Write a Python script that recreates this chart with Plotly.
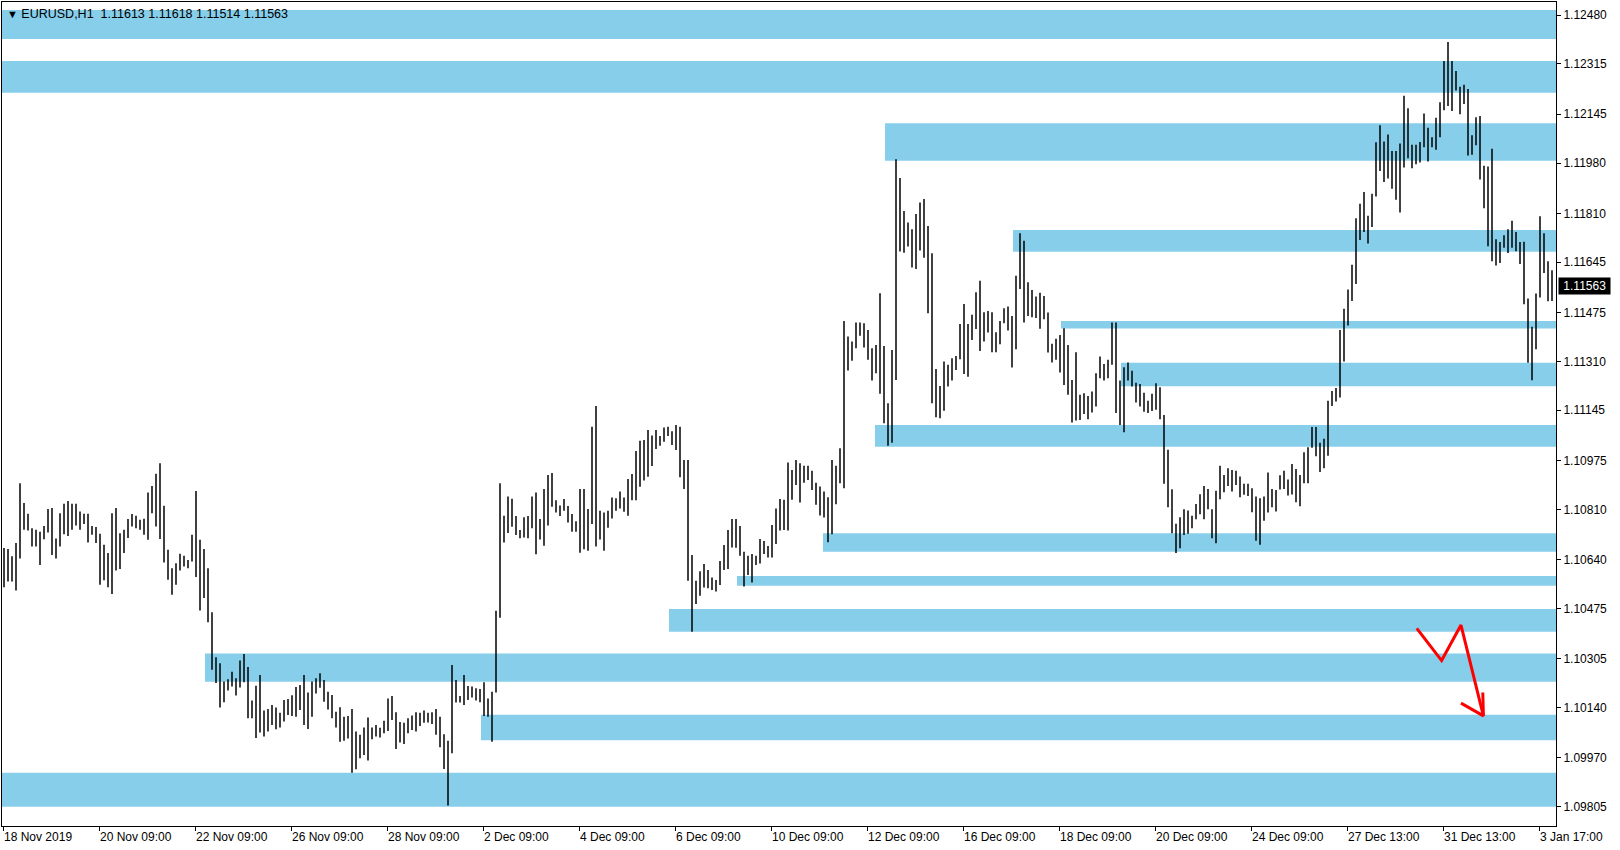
import plotly.graph_objects as go

# ---------------- data ----------------
symbol_header = "EURUSD,H1  1.11613 1.11618 1.11514 1.11563"
last_close = 1.11563
bars_per_entry = 2  # each entry = high/low of two consecutive H1 bars

highs = [
    1.10679, 1.10676, 1.10651, 1.10696, 1.10898, 1.10831, 1.10795, 1.10746, 1.10741, 1.10734,
    1.10754, 1.10811, 1.10814, 1.10711, 1.10797, 1.10829, 1.10838, 1.10829, 1.10829, 1.10803,
    1.10795, 1.10795, 1.10754, 1.10750, 1.10727, 1.10690, 1.10662, 1.10797, 1.10814, 1.10729,
    1.10741, 1.10777, 1.10794, 1.10788, 1.10775, 1.10778, 1.10867, 1.10889, 1.10930, 1.10966,
    1.10822, 1.10673, 1.10611, 1.10628, 1.10660, 1.10653, 1.10639, 1.10724, 1.10872, 1.10707,
    1.10676, 1.10611, 1.10462, 1.10310, 1.10290, 1.10228, 1.10236, 1.10261, 1.10239, 1.10299,
    1.10321, 1.10277, 1.10164, 1.10214, 1.10250, 1.10130, 1.10135, 1.10149, 1.10140, 1.10123,
    1.10166, 1.10169, 1.10182, 1.10210, 1.10216, 1.10250, 1.10191, 1.10228, 1.10239, 1.10256,
    1.10233, 1.10194, 1.10183, 1.10126, 1.10141, 1.10109, 1.10112, 1.10135, 1.10059, 1.10048,
    1.10073, 1.10107, 1.10073, 1.10081, 1.10072, 1.10096, 1.10171, 1.10179, 1.10124, 1.10091,
    1.10089, 1.10104, 1.10113, 1.10124, 1.10123, 1.10130, 1.10123, 1.10124, 1.10135, 1.10109,
    1.10050, 1.10028, 1.10284, 1.10233, 1.10179, 1.10250, 1.10213, 1.10211, 1.10205, 1.10203,
    1.10226, 1.10171, 1.10194, 1.10467, 1.10898, 1.10788, 1.10853, 1.10846, 1.10787, 1.10740,
    1.10783, 1.10787, 1.10853, 1.10867, 1.10777, 1.10879, 1.10926, 1.10933, 1.10841, 1.10823,
    1.10845, 1.10821, 1.10794, 1.10770, 1.10879, 1.10879, 1.10811, 1.11089, 1.11159, 1.10805,
    1.10799, 1.10805, 1.10850, 1.10847, 1.10870, 1.10850, 1.10912, 1.10929, 1.11007, 1.11042,
    1.11044, 1.11078, 1.11059, 1.11078, 1.11058, 1.11086, 1.11089, 1.11074, 1.11095, 1.11089,
    1.10977, 1.10977, 1.10656, 1.10569, 1.10601, 1.10625, 1.10605, 1.10580, 1.10571, 1.10635,
    1.10689, 1.10740, 1.10777, 1.10777, 1.10754, 1.10667, 1.10653, 1.10659, 1.10653, 1.10710,
    1.10703, 1.10686, 1.10757, 1.10813, 1.10845, 1.10842, 1.10968, 1.10943, 1.10977, 1.10966,
    1.10957, 1.10957, 1.10940, 1.10900, 1.10887, 1.10870, 1.10851, 1.10977, 1.10957, 1.11016,
    1.11446, 1.11394, 1.11377, 1.11441, 1.11441, 1.11439, 1.11416, 1.11354, 1.11365, 1.11540,
    1.11362, 1.11168, 1.11348, 1.11993, 1.11929, 1.11818, 1.11779, 1.11756, 1.11808, 1.11847,
    1.11858, 1.11767, 1.11675, 1.11284, 1.11227, 1.11309, 1.11298, 1.11320, 1.11328, 1.11436,
    1.11504, 1.11436, 1.11467, 1.11543, 1.11582, 1.11476, 1.11480, 1.11476, 1.11408, 1.11446,
    1.11489, 1.11495, 1.11463, 1.11599, 1.11743, 1.11717, 1.11577, 1.11551, 1.11529, 1.11542,
    1.11531, 1.11475, 1.11369, 1.11386, 1.11399, 1.11422, 1.11365, 1.11247, 1.11341, 1.11197,
    1.11202, 1.11193, 1.11208, 1.11270, 1.11326, 1.11301, 1.11315, 1.11441, 1.11441, 1.11245,
    1.11290, 1.11306, 1.11278, 1.11238, 1.11233, 1.11204, 1.11177, 1.11200, 1.11236, 1.11222,
    1.11129, 1.11011, 1.10878, 1.10761, 1.10783, 1.10810, 1.10806, 1.10788, 1.10828, 1.10861,
    1.10889, 1.10879, 1.10810, 1.10873, 1.10957, 1.10926, 1.10949, 1.10943, 1.10940, 1.10921,
    1.10896, 1.10896, 1.10881, 1.10853, 1.10847, 1.10853, 1.10934, 1.10879, 1.10875, 1.10925,
    1.10940, 1.10911, 1.10963, 1.10946, 1.10926, 1.11003, 1.11020, 1.11088, 1.11088, 1.11035,
    1.11048, 1.11177, 1.11210, 1.11220, 1.11416, 1.11488, 1.11553, 1.11636, 1.11793, 1.11842,
    1.11882, 1.11802, 1.11876, 1.12050, 1.12108, 1.12053, 1.12076, 1.12021, 1.12021, 1.12046,
    1.12207, 1.12165, 1.12042, 1.12042, 1.12051, 1.12147, 1.12099, 1.12067, 1.12133, 1.12185,
    1.12325, 1.12389, 1.12325, 1.12291, 1.12238, 1.12244, 1.12230, 1.12074, 1.12135, 1.12139,
    1.11971, 1.11968, 1.12028, 1.11722, 1.11713, 1.11736, 1.11756, 1.11785, 1.11747, 1.11713,
    1.11714, 1.11522, 1.11427, 1.11539, 1.11800, 1.11743, 1.11648, 1.11618,
]

lows = [
    1.10547, 1.10566, 1.10566, 1.10536, 1.10644, 1.10741, 1.10738, 1.10684, 1.10684, 1.10622,
    1.10709, 1.10732, 1.10656, 1.10644, 1.10684, 1.10726, 1.10720, 1.10741, 1.10755, 1.10741,
    1.10760, 1.10698, 1.10724, 1.10696, 1.10555, 1.10570, 1.10547, 1.10524, 1.10603, 1.10608,
    1.10662, 1.10713, 1.10752, 1.10746, 1.10741, 1.10724, 1.10707, 1.10797, 1.10752, 1.10710,
    1.10630, 1.10572, 1.10521, 1.10555, 1.10603, 1.10617, 1.10611, 1.10634, 1.10581, 1.10468,
    1.10510, 1.10428, 1.10268, 1.10223, 1.10140, 1.10158, 1.10198, 1.10211, 1.10181, 1.10208,
    1.10226, 1.10104, 1.10104, 1.10037, 1.10056, 1.10042, 1.10059, 1.10081, 1.10067, 1.10073,
    1.10093, 1.10115, 1.10112, 1.10109, 1.10132, 1.10081, 1.10068, 1.10109, 1.10188, 1.10207,
    1.10160, 1.10134, 1.10104, 1.10073, 1.10025, 1.10028, 1.10036, 1.09920, 1.09932, 1.09969,
    1.09980, 1.09961, 1.10033, 1.10042, 1.10039, 1.10053, 1.10061, 1.10098, 1.10000, 1.10022,
    1.10017, 1.10053, 1.10064, 1.10059, 1.10078, 1.10089, 1.10090, 1.10085, 1.10048, 1.10006,
    1.09933, 1.09809, 1.09986, 1.10157, 1.10157, 1.10149, 1.10166, 1.10174, 1.10164, 1.10158,
    1.10112, 1.10109, 1.10025, 1.10191, 1.10444, 1.10698, 1.10730, 1.10751, 1.10723, 1.10712,
    1.10715, 1.10712, 1.10746, 1.10658, 1.10708, 1.10687, 1.10755, 1.10819, 1.10799, 1.10787,
    1.10805, 1.10765, 1.10734, 1.10734, 1.10663, 1.10675, 1.10670, 1.10760, 1.10684, 1.10708,
    1.10670, 1.10748, 1.10779, 1.10805, 1.10813, 1.10802, 1.10788, 1.10841, 1.10841, 1.10886,
    1.10907, 1.10920, 1.10956, 1.11014, 1.11025, 1.11038, 1.11058, 1.11027, 1.11010, 1.10918,
    1.10879, 1.10569, 1.10396, 1.10490, 1.10518, 1.10546, 1.10543, 1.10537, 1.10532, 1.10554,
    1.10605, 1.10608, 1.10681, 1.10680, 1.10653, 1.10549, 1.10588, 1.10563, 1.10622, 1.10627,
    1.10659, 1.10647, 1.10647, 1.10693, 1.10738, 1.10740, 1.10738, 1.10842, 1.10892, 1.10833,
    1.10900, 1.10909, 1.10875, 1.10825, 1.10789, 1.10782, 1.10699, 1.10726, 1.10827, 1.10898,
    1.10881, 1.11279, 1.11312, 1.11354, 1.11396, 1.11357, 1.11315, 1.11245, 1.11270, 1.11200,
    1.11101, 1.11025, 1.11035, 1.11247, 1.11681, 1.11677, 1.11698, 1.11627, 1.11622, 1.11684,
    1.11660, 1.11472, 1.11168, 1.11121, 1.11118, 1.11143, 1.11225, 1.11245, 1.11281, 1.11317,
    1.11267, 1.11258, 1.11382, 1.11419, 1.11345, 1.11377, 1.11407, 1.11341, 1.11341, 1.11368,
    1.11439, 1.11414, 1.11289, 1.11351, 1.11554, 1.11441, 1.11463, 1.11459, 1.11456, 1.11420,
    1.11452, 1.11340, 1.11306, 1.11315, 1.11272, 1.11230, 1.11197, 1.11103, 1.11110, 1.11112,
    1.11132, 1.11114, 1.11137, 1.11157, 1.11253, 1.11245, 1.11253, 1.11298, 1.11135, 1.11095,
    1.11070, 1.11245, 1.11225, 1.11171, 1.11157, 1.11140, 1.11135, 1.11142, 1.11146, 1.11114,
    1.10896, 1.10817, 1.10729, 1.10662, 1.10678, 1.10723, 1.10727, 1.10746, 1.10776, 1.10793,
    1.10776, 1.10810, 1.10712, 1.10695, 1.10844, 1.10868, 1.10889, 1.10870, 1.10892, 1.10851,
    1.10859, 1.10855, 1.10800, 1.10704, 1.10690, 1.10771, 1.10799, 1.10817, 1.10803, 1.10877,
    1.10879, 1.10857, 1.10860, 1.10834, 1.10820, 1.10898, 1.10898, 1.11018, 1.10989, 1.10936,
    1.10949, 1.10991, 1.11159, 1.11174, 1.11188, 1.11309, 1.11431, 1.11514, 1.11571, 1.11720,
    1.11747, 1.11708, 1.11764, 1.11867, 1.11953, 1.11916, 1.11928, 1.11893, 1.11856, 1.11813,
    1.11965, 1.11996, 1.11962, 1.11976, 1.11982, 1.12033, 1.11985, 1.12033, 1.12025, 1.12067,
    1.12158, 1.12173, 1.12156, 1.12225, 1.12145, 1.12179, 1.12005, 1.12008, 1.12040, 1.11924,
    1.11827, 1.11699, 1.11648, 1.11634, 1.11642, 1.11694, 1.11676, 1.11694, 1.11682, 1.11639,
    1.11503, 1.11305, 1.11246, 1.11351, 1.11526, 1.11608, 1.11513, 1.11514,
]

x_tick_labels = ["18 Nov 2019", "20 Nov 09:00", "22 Nov 09:00", "26 Nov 09:00",
                 "28 Nov 09:00", "2 Dec 09:00", "4 Dec 09:00", "6 Dec 09:00",
                 "10 Dec 09:00", "12 Dec 09:00", "16 Dec 09:00", "18 Dec 09:00",
                 "20 Dec 09:00", "24 Dec 09:00", "27 Dec 13:00", "31 Dec 13:00",
                 "3 Jan 17:00"]
x_tick_bars = [0, 48, 96, 144, 192, 240, 288, 336, 384, 432, 480, 528, 576, 624,
               672, 720, 768]

y_tick_labels = ["1.12480", "1.12315", "1.12145", "1.11980", "1.11810", "1.11645",
                 "1.11475", "1.11310", "1.11145", "1.10975", "1.10810", "1.10640",
                 "1.10475", "1.10305", "1.10140", "1.09970", "1.09805"]

# support/resistance rectangles (None = from the left edge of the chart)
zone_start_bar = [None, None, 441, 505, 529, 559, 436, 410, 367, 333, 101, 239, None]
zone_high = [1.12497, 1.12325, 1.12114, 1.11754, 1.11446, 1.11305, 1.11095, 1.10729,
             1.10585, 1.10473, 1.10323, 1.10116, 1.09920]
zone_low = [1.12399, 1.12217, 1.11988, 1.11680, 1.11421, 1.11226, 1.11021, 1.10667,
            1.10552, 1.10396, 1.10227, 1.10030, 1.09805]

# hand-drawn red arrow
arrow_bar = [706.9, 719.3, 729.0, 740.2]
arrow_price = [1.10408, 1.10299, 1.10419, 1.10112]
arrowhead_bar = [729.0, 740.2, 739.9]
arrowhead_price = [1.10155, 1.10112, 1.10191]

x_range = [-0.5, 776.5]
y_range = [1.09740, 1.12524]

# ---------------- figure ----------------
assert len(highs) == len(lows)
bar_x, bar_y = [], []
for k in range(len(highs)):
    xc = k * bars_per_entry + (bars_per_entry - 1) / 2
    bar_x += [xc, xc, None]
    bar_y += [lows[k], highs[k], None]

fig = go.Figure()

zone_color = "#87CEEB"
for s, hi, lo in zip(zone_start_bar, zone_high, zone_low):
    fig.add_shape(type="rect", xref="x", yref="y",
                  x0=x_range[0] if s is None else s, x1=x_range[1],
                  y0=lo, y1=hi, fillcolor=zone_color, line_width=0, layer="below")

fig.add_trace(go.Scatter(x=bar_x, y=bar_y, mode="lines",
                         line=dict(color="black", width=1.5), hoverinfo="skip",
                         showlegend=False))
fig.add_trace(go.Scatter(x=arrow_bar, y=arrow_price, mode="lines",
                         line=dict(color="#FF0000", width=3), hoverinfo="skip",
                         showlegend=False))
fig.add_trace(go.Scatter(x=arrowhead_bar, y=arrowhead_price, mode="lines",
                         line=dict(color="#FF0000", width=3), hoverinfo="skip",
                         showlegend=False))

font = "Liberation Sans, Arial, sans-serif"

fig.add_annotation(xref="paper", yref="paper", x=0.002, y=0.986,
                   xanchor="left", yanchor="middle", showarrow=False,
                   text='<span style="font-size:11px">▼</span> ' + symbol_header,
                   font=dict(family=font, size=12.5, color="black"))

fig.add_annotation(xref="paper", yref="y", x=1, y=last_close, xanchor="left",
                   yanchor="middle", xshift=2, showarrow=False,
                   text=f"&nbsp;{last_close:.5f}&nbsp;", bgcolor="black", borderpad=1,
                   font=dict(family=font, size=12, color="white"))

fig.update_layout(
    width=1620, height=850,
    margin=dict(l=2, r=64, t=2, b=24, pad=0),
    paper_bgcolor="white", plot_bgcolor="white",
    showlegend=False, hovermode=False,
    font=dict(family=font, size=12, color="black"),
    xaxis=dict(range=x_range, showgrid=False, zeroline=False, showline=True,
               linecolor="black", linewidth=1, mirror=True,
               ticks="outside", ticklen=4, tickcolor="black",
               tickvals=x_tick_bars, ticktext=x_tick_labels,
               ticklabelposition="outside right",
               tickfont=dict(family=font, size=12, color="black"),
               automargin=False, fixedrange=True),
    yaxis=dict(range=y_range, side="right", showgrid=False, zeroline=False,
               showline=True, linecolor="black", linewidth=1, mirror=True,
               ticks="outside", ticklen=4, tickcolor="black",
               tickvals=[float(t) for t in y_tick_labels], ticktext=y_tick_labels,
               tickfont=dict(family=font, size=12, color="black"),
               automargin=False, fixedrange=True),
)

fig.write_html("out.html", config={"displayModeBar": False, "staticPlot": True},
               post_script="document.body.style.margin='0';"
                           "document.body.style.overflow='hidden';")
